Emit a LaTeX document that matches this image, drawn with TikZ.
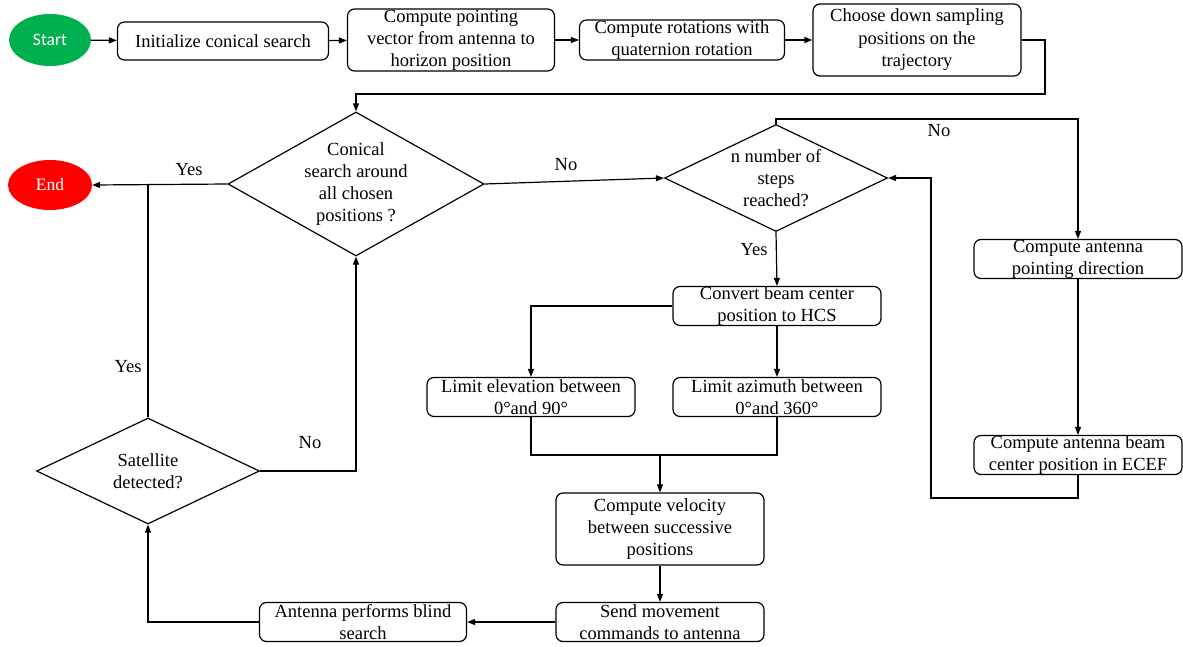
\documentclass[tikz,border=0pt]{standalone}
\usepackage{fontspec}
\setmainfont{Liberation Serif}
\newfontfamily\termfont{Carlito}
\usetikzlibrary{arrows.meta,shapes.geometric}
\definecolor{sc}{RGB}{0,176,80}
\definecolor{ec}{RGB}{255,0,0}
\tikzset{wire/.style={line width=1.2pt},arr/.style={wire,-{Triangle[length=8pt,width=6pt]}},
 bx/.style={draw,wire,rounded corners=7pt,align=center,inner sep=0pt,minimum width=208pt,minimum height=39pt},
 bx3/.style={bx,minimum height=72pt},
 term/.style={ellipse,minimum width=82pt,minimum height=52pt,inner sep=0pt,text=white},
 dec/.style={diamond,draw,wire,align=center,inner sep=0pt},
 lbl/.style={inner sep=0pt},
 every node/.style={font=\fontsize{18.5}{22}\selectfont}}
\begin{document}
\begin{tikzpicture}[x=1pt,y=-1pt]
\useasboundingbox (0,0) rectangle (1183,646);
% top row
\node[term,fill=sc,font=\termfont\fontsize{17.5}{20}\selectfont] (start) at (50,40) {Start};
\node[bx,minimum width=211pt,minimum height=38pt] (init) at (223,41) {Initialize conical search};
\node[bx3,minimum width=207pt,minimum height=62pt] (ptv) at (451,40) {Compute pointing\\vector from antenna to\\horizon position};
\node[bx,minimum width=205pt,minimum height=40pt] (rot) at (682,40) {Compute rotations with\\quaternion rotation};
\node[bx3,font=\fontsize{18.5}{22.5}\selectfont] (choose) at (917,40) {Choose down sampling\\positions on the\\trajectory};
% decisions
\node[dec,minimum width=256pt,minimum height=144pt,aspect=1.78] (d1) at (356,184) {Conical\\search around\\all chosen\\positions ?};
\node[dec,minimum width=223pt,minimum height=107pt,aspect=2.08] (d3) at (776,178) {n number of\\steps\\reached?};
\node[dec,minimum width=223pt,minimum height=106pt,aspect=2.1] (d2) at (148,471) {Satellite\\detected?};
\node[term,fill=ec,minimum width=84pt,minimum height=50pt,font=\fontsize{17.5}{20}\selectfont] (end) at (50,185) {End};
% right branch
\node[bx] (pdir) at (1078,259) {Compute antenna\\pointing direction};
\node[bx] (beam) at (1078,455) {Compute antenna beam\\center position in ECEF};
% middle branch
\node[bx] (conv) at (777,306) {Convert beam center\\position to HCS};
\node[bx] (elev) at (531,397) {Limit elevation between\\0\textdegree and 90\textdegree};
\node[bx] (azim) at (777,397) {Limit azimuth between\\0\textdegree and 360\textdegree};
\node[bx3] (vel) at (660,529) {Compute velocity\\between successive\\positions};
\node[bx] (send) at (660,622) {Send movement\\commands to antenna};
\node[bx,minimum width=207pt] (blind) at (363,622) {Antenna performs blind\\search};
\coordinate (mrg) at (660,455);
% labels
\node[lbl] (y1) at (189,170) {Yes};
\node[lbl] (y2) at (128,367) {Yes};
\node[lbl] (n1) at (310,443) {No};
\node[lbl] (n2) at (566,165) {No};
\node[lbl] (n3) at (939,131) {No};
\node[lbl] (y3) at (754,250) {Yes};
% connectors
\draw[arr] (start) -- (init);
\draw[arr] (init) -- (ptv);
\draw[arr] (ptv) -- (rot);
\draw[arr] (rot) -- (choose);
\draw[arr] (choose.east) -| (1045,94) -| (d1.north);
\draw[arr] (d1.west) -- (end.east);
\draw[wire] (d2.north) -- (d2.north |- d1.west);
\draw[arr] (d2.east) -| (d1.south);
\draw[arr] (d1.east) -- (d3.west);
\draw[arr] (d3.north) -- ++(0,-5) -| (pdir.north);
\draw[arr] (pdir) -- (beam);
\draw[arr] (beam.south) |- (931,498) -- (931,178) -- (d3.east);
\draw[arr] (d3.south) -- (conv.north);
\draw[arr] (conv.west) -| (elev.north);
\draw[arr] (conv) -- (azim);
\draw[wire] (elev.south) |- (mrg) -| (azim.south);
\draw[arr] (mrg) -- (vel.north);
\draw[arr] (vel) -- (send);
\draw[arr] (send) -- (blind);
\draw[arr] (blind.west) -| (d2.south);
\end{tikzpicture}
\end{document}
